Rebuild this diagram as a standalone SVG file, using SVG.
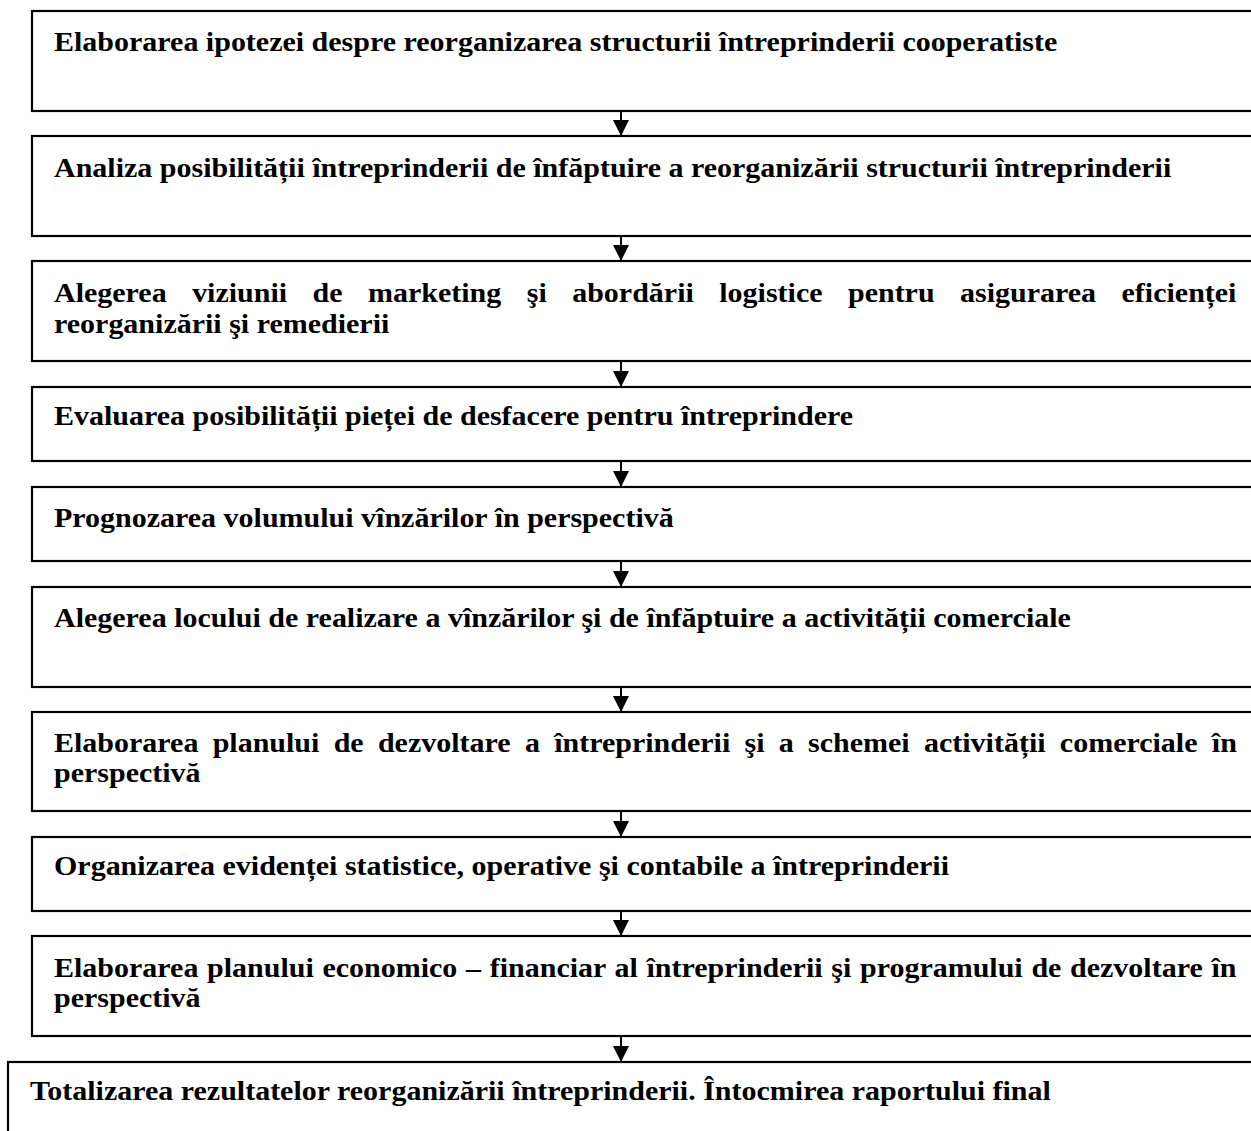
<svg xmlns="http://www.w3.org/2000/svg" width="1251" height="1131" viewBox="0 0 1251 1131">
  <style>
    .box { fill: #ffffff; stroke: #000000; stroke-width: 2.2; }
    .t { font-family: "Liberation Serif", "Times New Roman", serif; font-weight: bold; font-size: 30px; fill: #000000; }
    .link { fill: none; stroke: #000000; stroke-width: 2; marker-end: url(#arrow); }
  </style>
  <defs>
    <marker id="arrow" viewBox="0 0 16 16" refX="16" refY="8" markerWidth="16" markerHeight="16" markerUnits="userSpaceOnUse" orient="auto">
      <path d="M0,0 L16,8 L0,16 Z" fill="#000000"/>
    </marker>
  </defs>

  <rect width="1251" height="1131" fill="#ffffff"/>

  <!-- process steps -->
  <g id="step1">
    <rect class="box" x="32" y="11" width="1240" height="100"/>
    <text class="t" transform="translate(54 51) scale(1 0.92)">Elaborarea ipotezei despre reorganizarea structurii întreprinderii cooperatiste</text>
  </g>
  <g id="step2">
    <rect class="box" x="32" y="136" width="1240" height="100"/>
    <text class="t" transform="translate(54 176.5) scale(1 0.92)">Analiza posibilității întreprinderii de înfăptuire a reorganizării structurii întreprinderii</text>
  </g>
  <g id="step3">
    <rect class="box" x="32" y="261" width="1240" height="100"/>
    <text class="t" transform="translate(54 302) scale(1 0.92)"><tspan x="0" y="0" word-spacing="17.96">Alegerea viziunii de marketing şi abordării logistice pentru asigurarea eficienței</tspan><tspan x="0" y="33.4">reorganizării şi remedierii</tspan></text>
  </g>
  <g id="step4">
    <rect class="box" x="32" y="387" width="1240" height="74"/>
    <text class="t" transform="translate(54 425) scale(1 0.92)">Evaluarea posibilității pieței de desfacere pentru întreprindere</text>
  </g>
  <g id="step5">
    <rect class="box" x="32" y="487" width="1240" height="74"/>
    <text class="t" transform="translate(54 526.5) scale(1 0.92)">Prognozarea volumului vînzărilor în perspectivă</text>
  </g>
  <g id="step6">
    <rect class="box" x="32" y="587" width="1240" height="100"/>
    <text class="t" transform="translate(54 626.5) scale(1 0.92)">Alegerea locului de realizare a vînzărilor şi de înfăptuire a activității comerciale</text>
  </g>
  <g id="step7">
    <rect class="box" x="32" y="712" width="1240" height="99"/>
    <text class="t" transform="translate(54 751.5) scale(1 0.92)"><tspan x="0" y="0" word-spacing="6.8">Elaborarea planului de dezvoltare a întreprinderii şi a schemei activității comerciale în</tspan><tspan x="0" y="33.7">perspectivă</tspan></text>
  </g>
  <g id="step8">
    <rect class="box" x="32" y="837" width="1240" height="74"/>
    <text class="t" transform="translate(54 875) scale(1 0.92)">Organizarea evidenței statistice, operative şi contabile a întreprinderii</text>
  </g>
  <g id="step9">
    <rect class="box" x="32" y="936" width="1240" height="100"/>
    <text class="t" transform="translate(54 976.5) scale(1 0.92)"><tspan x="0" y="0" word-spacing="1.2">Elaborarea planului economico – financiar al întreprinderii şi programului de dezvoltare în</tspan><tspan x="0" y="33.7">perspectivă</tspan></text>
  </g>
  <g id="step10">
    <rect class="box" x="8" y="1062" width="1260" height="100"/>
    <text class="t" transform="translate(30 1100) scale(1 0.92)">Totalizarea rezultatelor reorganizării întreprinderii. Întocmirea raportului final</text>
  </g>

  <!-- connectors between consecutive steps -->
  <g id="connectors">
    <path class="link" d="M621,111 V136"/>
    <path class="link" d="M621,236 V261"/>
    <path class="link" d="M621,361 V387"/>
    <path class="link" d="M621,461 V487"/>
    <path class="link" d="M621,561 V587"/>
    <path class="link" d="M621,687 V712"/>
    <path class="link" d="M621,811 V837"/>
    <path class="link" d="M621,911 V936"/>
    <path class="link" d="M621,1036 V1062"/>
  </g>
</svg>
